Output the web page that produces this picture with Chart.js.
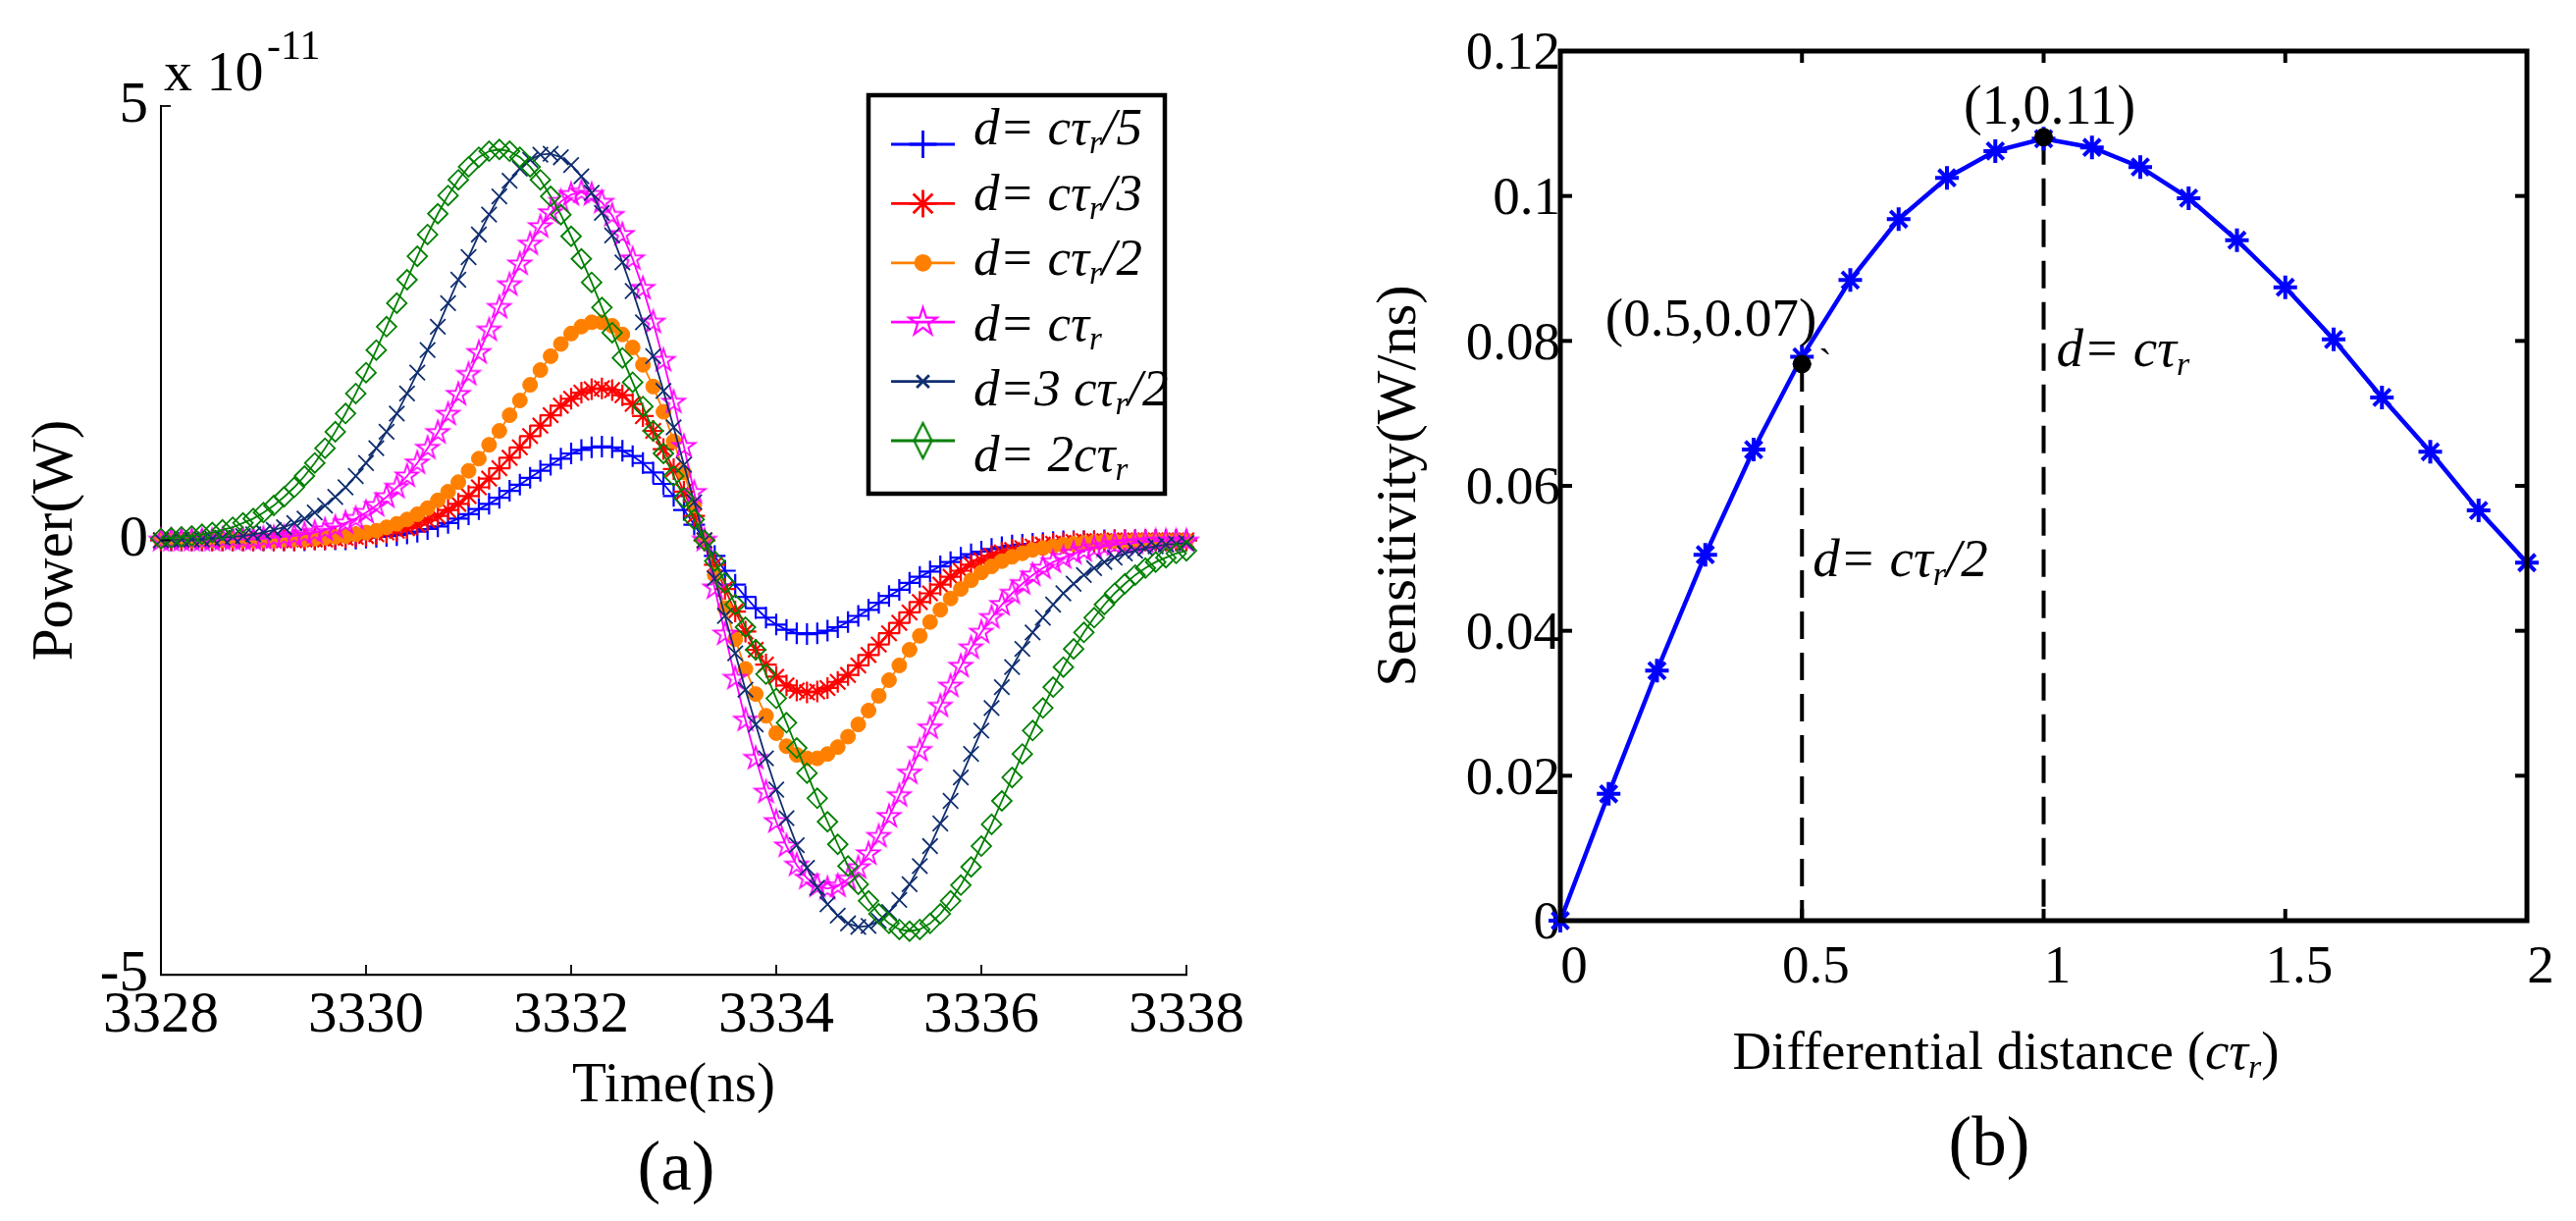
<!DOCTYPE html>
<html>
<head>
<meta charset="utf-8">
<title>Power and sensitivity</title>
<script src="https://cdn.jsdelivr.net/npm/chart.js@4.4.1/dist/chart.umd.min.js"></script>
<style>
  html, body { margin:0; padding:0; background:#ffffff; }
  body { width:2625px; height:1244px; position:relative; overflow:hidden; }
  canvas { position:absolute; top:0; }
  #chartA { left:0; }
  #chartB { left:1300px; }
</style>
</head>
<body>
<canvas id="chartA" width="1300" height="1244"></canvas>
<canvas id="chartB" width="1325" height="1244"></canvas>
<script>
// ================= DATA : panel (a) — power in units of 1e-11 W =================
const timeNs = [
3328,3328.1,3328.2,3328.3,3328.4,3328.5,3328.6,3328.7,3328.8,3328.9,
3329,3329.1,3329.2,3329.3,3329.4,3329.5,3329.6,3329.7,3329.8,3329.9,
3330,3330.1,3330.2,3330.3,3330.4,3330.5,3330.6,3330.7,3330.8,3330.9,
3331,3331.1,3331.2,3331.3,3331.4,3331.5,3331.6,3331.7,3331.8,3331.9,
3332,3332.1,3332.2,3332.3,3332.4,3332.5,3332.6,3332.7,3332.8,3332.9,
3333,3333.1,3333.2,3333.3,3333.4,3333.5,3333.6,3333.7,3333.8,3333.9,
3334,3334.1,3334.2,3334.3,3334.4,3334.5,3334.6,3334.7,3334.8,3334.9,
3335,3335.1,3335.2,3335.3,3335.4,3335.5,3335.6,3335.7,3335.8,3335.9,
3336,3336.1,3336.2,3336.3,3336.4,3336.5,3336.6,3336.7,3336.8,3336.9,
3337,3337.1,3337.2,3337.3,3337.4,3337.5,3337.6,3337.7,3337.8,3337.9,
3338];

const powerCtr5 = [
0,0,0,0,0,0,0,0,0,0,0,0,0,0,0,
0.01,0.01,0.01,0.01,0.02,0.03,0.04,0.05,0.06,0.08,0.10,0.13,0.16,0.20,0.25,0.30,0.36,0.42,0.49,0.57,0.64,0.72,0.80,0.87,0.94,1.00,1.04,1.07,1.08,1.07,1.03,0.97,0.89,0.78,0.65,0.51,0.35,0.18,
0,
-0.18,-0.35,-0.51,-0.65,-0.78,-0.89,-0.97,-1.03,-1.07,-1.08,-1.07,-1.04,-1.00,-0.94,-0.87,-0.80,-0.72,-0.64,-0.57,-0.49,-0.42,-0.36,-0.30,-0.25,-0.20,-0.16,-0.13,-0.10,-0.08,-0.06,-0.05,-0.04,-0.03,-0.02,-0.01,-0.01,-0.01,-0.01,
0,0,0,0,0,0,0,0,0];

const powerCtr3 = [
0,0,0,0,0,0,0,0,0,0,0,0,0,0,
0.01,0.01,0.01,0.02,0.03,0.04,0.05,0.07,0.09,0.11,0.14,0.18,0.23,0.28,0.35,0.42,0.51,0.61,0.71,0.83,0.95,1.07,1.20,1.32,1.44,1.55,1.63,1.70,1.74,1.75,1.73,1.67,1.57,1.43,1.26,1.05,0.82,0.56,0.28,
0,
-0.28,-0.56,-0.82,-1.05,-1.26,-1.43,-1.57,-1.67,-1.73,-1.75,-1.74,-1.70,-1.63,-1.55,-1.44,-1.32,-1.20,-1.07,-0.95,-0.83,-0.71,-0.61,-0.51,-0.42,-0.35,-0.28,-0.23,-0.18,-0.14,-0.11,-0.09,-0.07,-0.05,-0.04,-0.03,-0.02,-0.01,-0.01,-0.01,
0,0,0,0,0,0,0,0];

const powerCtr2 = [
0,0,0,0,0,0,0,0,0,0,0,0,
0.01,0.01,0.01,0.02,0.03,0.04,0.05,0.07,0.09,0.11,0.15,0.19,0.24,0.30,0.37,0.46,0.56,0.67,0.80,0.94,1.10,1.26,1.44,1.61,1.79,1.96,2.12,2.26,2.38,2.46,2.51,2.51,2.47,2.37,2.22,2.02,1.77,1.48,1.14,0.78,0.40,
0,
-0.40,-0.78,-1.14,-1.48,-1.77,-2.02,-2.22,-2.37,-2.47,-2.51,-2.51,-2.46,-2.38,-2.26,-2.12,-1.96,-1.79,-1.61,-1.44,-1.26,-1.10,-0.94,-0.80,-0.67,-0.56,-0.46,-0.37,-0.30,-0.24,-0.19,-0.15,-0.11,-0.09,-0.07,-0.05,-0.04,-0.03,-0.02,-0.01,-0.01,-0.01,
0,0,0,0,0,0];

const powerCtr = [
0,0,0,0,0,0,
0.01,0.01,0.01,0.01,0.02,0.03,0.04,0.05,0.07,0.09,0.12,0.15,0.20,0.25,0.32,0.40,0.50,0.61,0.74,0.89,1.06,1.24,1.45,1.68,1.91,2.16,2.42,2.68,2.94,3.18,3.41,3.61,3.77,3.90,3.98,4.01,3.98,3.89,3.74,3.52,3.24,2.90,2.51,2.07,1.59,1.08,0.55,
0,
-0.55,-1.08,-1.59,-2.07,-2.51,-2.90,-3.24,-3.52,-3.74,-3.89,-3.98,-4.01,-3.98,-3.90,-3.77,-3.61,-3.41,-3.18,-2.94,-2.68,-2.42,-2.16,-1.91,-1.68,-1.45,-1.24,-1.06,-0.89,-0.74,-0.61,-0.50,-0.40,-0.32,-0.25,-0.20,-0.15,-0.12,-0.09,-0.07,-0.05,-0.04,-0.03,-0.02,-0.01,-0.01,-0.01,-0.01];

const power3Ctr2 = [
0,0.01,0.01,0.01,0.01,0.02,0.03,0.04,0.05,0.07,0.09,0.12,0.15,0.20,0.25,0.32,0.40,0.50,0.61,0.74,0.89,1.06,1.25,1.46,1.69,1.93,2.19,2.46,2.73,3.00,3.26,3.52,3.75,3.96,4.14,4.28,4.38,4.44,4.45,4.41,4.32,4.19,4.00,3.77,3.51,3.20,2.87,2.51,2.12,1.72,1.30,0.87,0.44,
0,
-0.44,-0.87,-1.30,-1.72,-2.12,-2.51,-2.87,-3.20,-3.51,-3.77,-4.00,-4.19,-4.32,-4.41,-4.45,-4.44,-4.38,-4.28,-4.14,-3.96,-3.75,-3.52,-3.26,-3.00,-2.73,-2.46,-2.19,-1.93,-1.69,-1.46,-1.25,-1.06,-0.89,-0.74,-0.61,-0.50,-0.40,-0.32,-0.25,-0.20,-0.15,-0.12,-0.09,-0.07,-0.05,-0.04,-0.03];

const power2Ctr = [
0.02,0.03,0.04,0.05,0.07,0.09,0.12,0.15,0.20,0.25,0.32,0.40,0.50,0.61,0.74,0.89,1.06,1.25,1.46,1.69,1.93,2.19,2.46,2.73,3.00,3.27,3.52,3.76,3.97,4.15,4.30,4.41,4.48,4.50,4.48,4.41,4.30,4.15,3.96,3.75,3.50,3.24,2.97,2.68,2.39,2.10,1.82,1.54,1.26,1.00,0.74,0.49,0.24,
0,
-0.24,-0.49,-0.74,-1.00,-1.26,-1.54,-1.82,-2.10,-2.39,-2.68,-2.97,-3.24,-3.50,-3.75,-3.96,-4.15,-4.30,-4.41,-4.48,-4.50,-4.48,-4.41,-4.30,-4.15,-3.97,-3.76,-3.52,-3.27,-3.00,-2.73,-2.46,-2.19,-1.93,-1.69,-1.46,-1.25,-1.06,-0.89,-0.74,-0.61,-0.50,-0.40,-0.32,-0.25,-0.20,-0.15,-0.12];

const xTicksA = [3328, 3330, 3332, 3334, 3336, 3338];
const xTickLabelsA = ['3328', '3330', '3332', '3334', '3336', '3338'];
const yTicksA = [-5, 0, 5];
const yTickLabelsA = ['-5', '0', '5'];
const legendMain = ['d= cτ', 'd= cτ', 'd= cτ', 'd= cτ', 'd=3 cτ', 'd= 2cτ'];
const legendTail = ['/5', '/3', '/2', '', '/2', ''];

// ================= DATA : panel (b) =================
const distance = [0,0.1,0.2,0.3,0.4,0.5,0.6,0.7,0.8,0.9,1,1.1,1.2,1.3,1.4,1.5,1.6,1.7,1.8,1.9,2];
const sensitivity = [0,0.0175,0.0345,0.0505,0.0650,0.0778,0.0884,0.0968,0.1025,0.1062,0.1079,0.1067,0.1040,0.0997,0.0939,0.0874,0.0802,0.0722,0.0647,0.0566,0.0494];
const markX = [0.5, 1];
const markY = [0.0768, 0.1081];
const markLabels = ['(0.5,0.07)', '(1,0.11)'];
const xTicksB = [0, 0.5, 1, 1.5, 2];
const xTickLabelsB = ['0', '0.5', '1', '1.5', '2'];
const yTicksB = [0, 0.02, 0.04, 0.06, 0.08, 0.1, 0.12];
const yTickLabelsB = ['0', '0.02', '0.04', '0.06', '0.08', '0.1', '0.12'];

// ================= helpers =================
const F = '"Liberation Serif", "Times New Roman", serif';
function fontStr(size, italic) { return (italic ? 'italic ' : '') + size + 'px ' + F; }
function drawRich(ctx, parts, x, y, align) {
  ctx.textBaseline = 'alphabetic'; ctx.textAlign = 'left';
  const widths = parts.map(p => { ctx.font = fontStr(p.s, p.it); return ctx.measureText(p.t).width; });
  const total = widths.reduce((a, b) => a + b, 0);
  let cx = align === 'center' ? x - total / 2 : (align === 'right' ? x - total : x);
  parts.forEach((p, i) => { ctx.font = fontStr(p.s, p.it); ctx.fillText(p.t, cx, y + (p.dy || 0)); cx += widths[i]; });
}
function makePentagram(color, r, lw) {
  const s = Math.ceil(2 * r + 2 * lw + 2);
  const c = document.createElement('canvas'); c.width = s; c.height = s;
  const g = c.getContext('2d'); g.strokeStyle = color; g.lineWidth = lw; g.lineJoin = 'miter';
  g.beginPath();
  for (let i = 0; i < 10; i++) {
    const ang = -Math.PI / 2 + i * Math.PI / 5;
    const rr = (i % 2 === 0) ? r : r * 0.382;
    const px = s / 2 + rr * Math.cos(ang), py = s / 2 + rr * Math.sin(ang);
    if (i === 0) g.moveTo(px, py); else g.lineTo(px, py);
  }
  g.closePath(); g.stroke();
  return c;
}
function makeDiamond(color, w, h, lw) {
  const c = document.createElement('canvas'); c.width = w + 2 * lw + 2; c.height = h + 2 * lw + 2;
  const g = c.getContext('2d'); g.strokeStyle = color; g.lineWidth = lw;
  const cx = c.width / 2, cy = c.height / 2;
  g.beginPath(); g.moveTo(cx, cy - h / 2); g.lineTo(cx + w / 2, cy); g.lineTo(cx, cy + h / 2); g.lineTo(cx - w / 2, cy); g.closePath(); g.stroke();
  return c;
}

const COL = { blue: '#0000ff', red: '#ff0000', orange: '#ff8000', magenta: '#ff00ff', navy: '#102e70', green: '#008000' };
const starChart = makePentagram(COL.magenta, 12, 1.8);
const starLegend = makePentagram(COL.magenta, 15, 2.2);
const diamondLegend = makeDiamond(COL.green, 18, 36, 2.2);

const seriesA = [
  { data: power2Ctr,  color: COL.green,   style: 'rectRot',  r: 10,  bw: 1.8, fill: false, legendStyle: diamondLegend, lr: 10 },
  { data: power3Ctr2, color: COL.navy,    style: 'crossRot', r: 11,  bw: 1.8, fill: false, legendStyle: 'crossRot', lr: 9 },
  { data: powerCtr,   color: COL.magenta, style: starChart,  r: 12,  bw: 1.8, fill: false, legendStyle: starLegend, lr: 15 },
  { data: powerCtr2,  color: COL.orange,  style: 'circle',   r: 7.5, bw: 1,   fill: true,  legendStyle: 'circle', lr: 7.5 },
  { data: powerCtr3,  color: COL.red,     style: 'star',     r: 11,  bw: 2.2, fill: false, legendStyle: 'star', lr: 14 },
  { data: powerCtr5,  color: COL.blue,    style: 'cross',    r: 11,  bw: 2.2, fill: false, legendStyle: 'cross', lr: 14 }
];
// legend order (top to bottom) is the reverse of the drawing order
const legendSeries = seriesA.slice().reverse();

// ================= panel (a) =================
const decoA = {
  id: 'decoA',
  afterDraw(chart) {
    const ctx = chart.ctx, xs = chart.scales.x, ys = chart.scales.y, a = chart.chartArea;
    ctx.save();
    ctx.strokeStyle = '#000'; ctx.lineWidth = 1.8;
    xs.ticks.forEach(t => { const px = xs.getPixelForValue(t.value); ctx.beginPath(); ctx.moveTo(px, a.bottom); ctx.lineTo(px, a.bottom - 10); ctx.stroke(); });
    ys.ticks.forEach(t => { const py = ys.getPixelForValue(t.value); ctx.beginPath(); ctx.moveTo(a.left, py); ctx.lineTo(a.left + 10, py); ctx.stroke(); });
    ctx.fillStyle = '#000';
    drawRich(ctx, [{ t: 'x 10', s: 58 }], 167, 92, 'left');
    drawRich(ctx, [{ t: '-11', s: 42 }], 272, 60, 'left');
    const bx = 885, by = 97, bw = 302, bh = 406;
    ctx.fillStyle = '#fff'; ctx.fillRect(bx, by, bw, bh);
    ctx.strokeStyle = '#000'; ctx.lineWidth = 4.5; ctx.strokeRect(bx, by, bw, bh);
    legendSeries.forEach((s, i) => {
      const ly = 147 + 60.4 * i, ty = 147 + 66.6 * i;
      ctx.strokeStyle = s.color; ctx.lineWidth = 2.8;
      ctx.beginPath(); ctx.moveTo(908, ly); ctx.lineTo(973, ly); ctx.stroke();
      ctx.fillStyle = s.fill ? s.color : 'rgba(0,0,0,0)';
      ctx.lineWidth = 2.8;
      Chart.helpers.drawPoint(ctx, { pointStyle: s.legendStyle, radius: s.lr, rotation: 0, borderWidth: 2.8 }, 940.5, ly);
      ctx.fillStyle = '#000';
      drawRich(ctx, [{ t: legendMain[i], s: 53, it: true }, { t: 'r', s: 33, it: true, dy: 9 }, { t: legendTail[i], s: 53, it: true }], 992, ty, 'left');
    });
    ctx.fillStyle = '#000';
    drawRich(ctx, [{ t: '(a)', s: 71 }], 689, 1212, 'center');
    ctx.restore();
  }
};

new Chart(document.getElementById('chartA'), {
  type: 'line',
  data: {
    datasets: seriesA.map(s => ({
      data: timeNs.map((t, i) => ({ x: t, y: s.data[i] })),
      borderColor: s.color, backgroundColor: s.color, borderWidth: 1.8, tension: 0, fill: false,
      pointStyle: s.style, pointRadius: s.r, pointHoverRadius: s.r,
      pointBorderColor: s.color, pointBackgroundColor: s.fill ? s.color : 'rgba(0,0,0,0)', pointBorderWidth: s.bw,
      clip: false
    }))
  },
  options: {
    responsive: false, animation: false, devicePixelRatio: 1, events: [],
    layout: { padding: { top: 108, right: 91, left: 0, bottom: 0 } },
    plugins: { legend: { display: false }, tooltip: { enabled: false } },
    scales: {
      x: {
        type: 'linear', min: 3328, max: 3338,
        afterFit(s) { s.height = 251; },
        afterBuildTicks(s) { s.ticks = xTicksA.map(v => ({ value: v })); },
        grid: { display: false, drawTicks: false },
        border: { display: true, color: '#000', width: 2.2 },
        ticks: { padding: 7, color: '#000', maxRotation: 0, autoSkip: false, font: { family: F, size: 59, lineHeight: 1.2 }, callback: (v, i) => xTickLabelsA[i] },
        title: { display: true, text: 'Time(ns)', color: '#000', font: { family: F, size: 57, lineHeight: 1.2 }, padding: { top: 0, bottom: 103 } }
      },
      y: {
        type: 'linear', min: -5, max: 5,
        afterFit(s) { s.width = 164; },
        afterBuildTicks(s) { s.ticks = yTicksA.map(v => ({ value: v })); },
        grid: { display: false, drawTicks: false },
        border: { display: true, color: '#000', width: 2 },
        ticks: { padding: 13, color: '#000', autoSkip: false, font: { family: F, size: 59, lineHeight: 1.2 }, callback: (v, i) => yTickLabelsA[i] },
        title: { display: true, text: 'Power(W)', color: '#000', font: { family: F, size: 59, lineHeight: 1.2 }, padding: { top: 22, bottom: 0 } }
      }
    }
  },
  plugins: [decoA]
});

// ================= panel (b) =================
const decoB = {
  id: 'decoB',
  afterDraw(chart) {
    const ctx = chart.ctx, xs = chart.scales.x, ys = chart.scales.y, a = chart.chartArea;
    ctx.save();
    ctx.strokeStyle = '#000'; ctx.lineWidth = 4;
    xs.ticks.forEach(t => {
      const px = xs.getPixelForValue(t.value);
      ctx.beginPath(); ctx.moveTo(px, a.bottom); ctx.lineTo(px, a.bottom - 12); ctx.stroke();
      ctx.beginPath(); ctx.moveTo(px, a.top); ctx.lineTo(px, a.top + 12); ctx.stroke();
    });
    ys.ticks.forEach(t => {
      const py = ys.getPixelForValue(t.value);
      ctx.beginPath(); ctx.moveTo(a.left, py); ctx.lineTo(a.left + 12, py); ctx.stroke();
      ctx.beginPath(); ctx.moveTo(a.right, py); ctx.lineTo(a.right - 12, py); ctx.stroke();
    });
    ctx.lineWidth = 5;
    ctx.strokeRect(a.left, a.top, a.right - a.left, a.bottom - a.top);

    ctx.fillStyle = '#000';
    const p0x = xs.getPixelForValue(markX[0]), p0y = ys.getPixelForValue(markY[0]);
    const p1x = xs.getPixelForValue(markX[1]), p1y = ys.getPixelForValue(markY[1]);
    drawRich(ctx, [{ t: markLabels[0], s: 55 }], p0x + 15, p0y - 29, 'right');
    drawRich(ctx, [{ t: '`', s: 40 }], p0x + 17, p0y + 12, 'left');
    drawRich(ctx, [{ t: markLabels[1], s: 56 }], p1x + 6, p1y - 14, 'center');
    drawRich(ctx, [{ t: 'd= cτ', s: 55, it: true }, { t: 'r', s: 34, it: true, dy: 9 }], p1x + 13, ys.getPixelForValue(0.0765), 'left');
    drawRich(ctx, [{ t: 'd= cτ', s: 55, it: true }, { t: 'r', s: 34, it: true, dy: 9 }, { t: '/2', s: 55, it: true }], p0x + 11, ys.getPixelForValue(0.0475), 'left');

    drawRich(ctx, [{ t: 'Differential distance (', s: 55 }, { t: 'cτ', s: 55, it: true }, { t: 'r', s: 34, it: true, dy: 9 }, { t: ')', s: 55 }], 744, 1089, 'center');
    drawRich(ctx, [{ t: '(b)', s: 71 }], 727, 1187, 'center');
    ctx.restore();
  }
};

new Chart(document.getElementById('chartB'), {
  type: 'line',
  data: {
    datasets: [
      { data: markX.map((x, i) => ({ x: x, y: markY[i] })), showLine: false, pointStyle: 'circle', pointRadius: 9, pointHoverRadius: 9,
        pointBackgroundColor: '#000', pointBorderColor: '#000', pointBorderWidth: 1, clip: false },
      { data: distance.map((d, i) => ({ x: d, y: sensitivity[i] })), borderColor: COL.blue, backgroundColor: COL.blue, borderWidth: 4.5, tension: 0, fill: false,
        pointStyle: 'star', pointRadius: 12, pointHoverRadius: 12, pointBorderColor: COL.blue, pointBorderWidth: 4, clip: false },
      { data: [{ x: markX[0], y: markY[0] }, { x: markX[0], y: 0 }], borderColor: '#000', borderWidth: 4, borderDash: [28, 14], pointRadius: 0, fill: false },
      { data: [{ x: markX[1], y: markY[1] }, { x: markX[1], y: 0 }], borderColor: '#000', borderWidth: 4, borderDash: [28, 14], pointRadius: 0, fill: false }
    ]
  },
  options: {
    responsive: false, animation: false, devicePixelRatio: 1, events: [],
    layout: { padding: { top: 52, right: 50, left: 0, bottom: 0 } },
    plugins: { legend: { display: false }, tooltip: { enabled: false } },
    scales: {
      x: {
        type: 'linear', min: 0, max: 2,
        afterFit(s) { s.height = 306; },
        afterBuildTicks(s) { s.ticks = xTicksB.map(v => ({ value: v })); },
        grid: { display: false, drawTicks: false },
        border: { display: false },
        ticks: { padding: 16, labelOffset: 14, color: '#000', maxRotation: 0, autoSkip: false, font: { family: F, size: 55, lineHeight: 1.2 }, callback: (v, i) => xTickLabelsB[i] },
        title: { display: false }
      },
      y: {
        type: 'linear', min: 0, max: 0.12,
        afterFit(s) { s.width = 290; },
        afterBuildTicks(s) { s.ticks = yTicksB.map(v => ({ value: v })); },
        grid: { display: false, drawTicks: false },
        border: { display: false },
        ticks: { padding: 0, labelOffset: 4, color: '#000', autoSkip: false, font: { family: F, size: 55, lineHeight: 1.2 }, callback: (v, i) => yTickLabelsB[i] },
        title: { display: true, text: 'Sensitivity(W/ns)', color: '#000', font: { family: F, size: 58, lineHeight: 1.2 }, padding: { top: 92, bottom: 0 } }
      }
    }
  },
  plugins: [decoB]
});
</script>
</body>
</html>
